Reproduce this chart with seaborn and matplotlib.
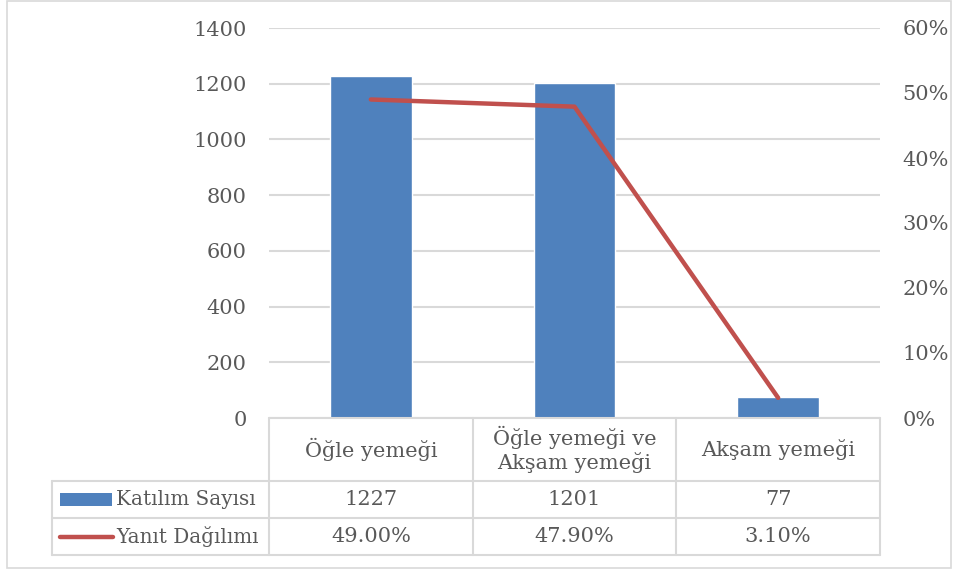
import matplotlib
matplotlib.use("Agg")
import matplotlib.pyplot as plt
import seaborn as sns
import pandas as pd
from matplotlib.ticker import FuncFormatter, MultipleLocator
from matplotlib.patches import Rectangle
from matplotlib.lines import Line2D

categories = ["Öğle yemeği", "Öğle yemeği ve\nAkşam yemeği", "Akşam yemeği"]
katilim = [1227, 1201, 77]
yanit = [0.49, 0.479, 0.031]
series_names = ["Katılım Sayısı", "Yanıt Dağılımı"]
katilim_labels = ["1227", "1201", "77"]
yanit_labels = ["49.00%", "47.90%", "3.10%"]

sns.set_theme(style="white")
plt.rcParams["font.family"] = ["DejaVu Serif"]
TXT = "#595959"
GRID = "#D9D9D9"
BLUE = "#4F81BD"
RED = "#C0504D"
FS = 15
FS_LEG = 14.3

W, H = 959, 571
fig = plt.figure(figsize=(W / 100, H / 100), dpi=100)
fig.patch.set_facecolor("white")

def fx(x): return x / W
def fy(y): return 1 - y / H

L, R, T, B = 269, 880, 28, 418
ax = fig.add_axes([fx(L), fy(B), fx(R) - fx(L), fy(T) - fy(B)])
df = pd.DataFrame({"cat": categories, "val": katilim})
sns.barplot(data=df, x="cat", y="val", ax=ax, color=BLUE, width=0.4, saturation=1, zorder=3)
ax.set_ylim(0, 1400)
ax.set_xlim(-0.5, 2.5)
ax.yaxis.set_major_locator(MultipleLocator(200))
ax.grid(axis="y", color=GRID, linewidth=1.5, zorder=0)
ax.set_axisbelow(True)
ax.set_xticks([])
ax.set_xlabel("")
ax.set_ylabel("")
for s in ax.spines.values():
    s.set_visible(False)
ax.tick_params(axis="y", length=0, pad=16, labelsize=FS, labelcolor=TXT)

ax2 = ax.twinx()
df2 = pd.DataFrame({"x": [0, 1, 2], "val": yanit})
sns.lineplot(data=df2, x="x", y="val", ax=ax2, color=RED, linewidth=3.2, zorder=4)
ax2.set_ylim(0, 0.6)
ax2.set_xlim(-0.5, 2.5)
ax2.yaxis.set_major_locator(MultipleLocator(0.1))
ax2.yaxis.set_major_formatter(FuncFormatter(lambda v, p: f"{v*100:.0f}%"))
ax2.grid(False)
ax2.set_xlabel("")
ax2.set_ylabel("")
for s in ax2.spines.values():
    s.set_visible(False)
ax2.tick_params(axis="y", length=0, pad=16, labelsize=FS, labelcolor=TXT)

# data table
cols = [L, L + (R - L) / 3, L + 2 * (R - L) / 3, R]
leg_x = 52
r0, r1, r2, r3 = B, 481, 518, 555
lw = 1.5
def hline(x0, x1, y):
    fig.add_artist(Line2D([fx(x0), fx(x1)], [fy(y), fy(y)], color=GRID, lw=lw))
def vline(x, y0, y1):
    fig.add_artist(Line2D([fx(x), fx(x)], [fy(y0), fy(y1)], color=GRID, lw=lw))

hline(L, R, r0)
hline(leg_x, R, r1)
hline(leg_x, R, r2)
hline(leg_x, R, r3)
for c in cols:
    vline(c, r0, r3)
vline(leg_x, r1, r3)

for i, cat in enumerate(categories):
    cx = (cols[i] + cols[i + 1]) / 2
    fig.text(fx(cx), fy((r0 + r1) / 2), cat, ha="center", va="center", fontsize=FS,
             color=TXT, linespacing=1.15)
    fig.text(fx(cx), fy((r1 + r2) / 2), katilim_labels[i], ha="center", va="center",
             fontsize=FS, color=TXT)
    fig.text(fx(cx), fy((r2 + r3) / 2), yanit_labels[i], ha="center", va="center",
             fontsize=FS, color=TXT)

# legend keys
fig.add_artist(Rectangle((fx(60), fy(506)), fx(112) - fx(60), fy(493) - fy(506),
                         facecolor=BLUE, edgecolor="none"))
fig.add_artist(Line2D([fx(60), fx(113)], [fy(537), fy(537)], color=RED, lw=3.2,
                      solid_capstyle="round"))
fig.text(fx(116), fy((r1 + r2) / 2), series_names[0], ha="left", va="center",
         fontsize=FS_LEG, color=TXT)
fig.text(fx(116), fy((r2 + r3) / 2), series_names[1], ha="left", va="center",
         fontsize=FS_LEG, color=TXT)

# outer border
fig.add_artist(Rectangle((fx(7), fy(568)), fx(951) - fx(7), fy(1) - fy(568),
                         facecolor="none", edgecolor=GRID, lw=1.2))

fig.savefig("out.png", dpi=100)
